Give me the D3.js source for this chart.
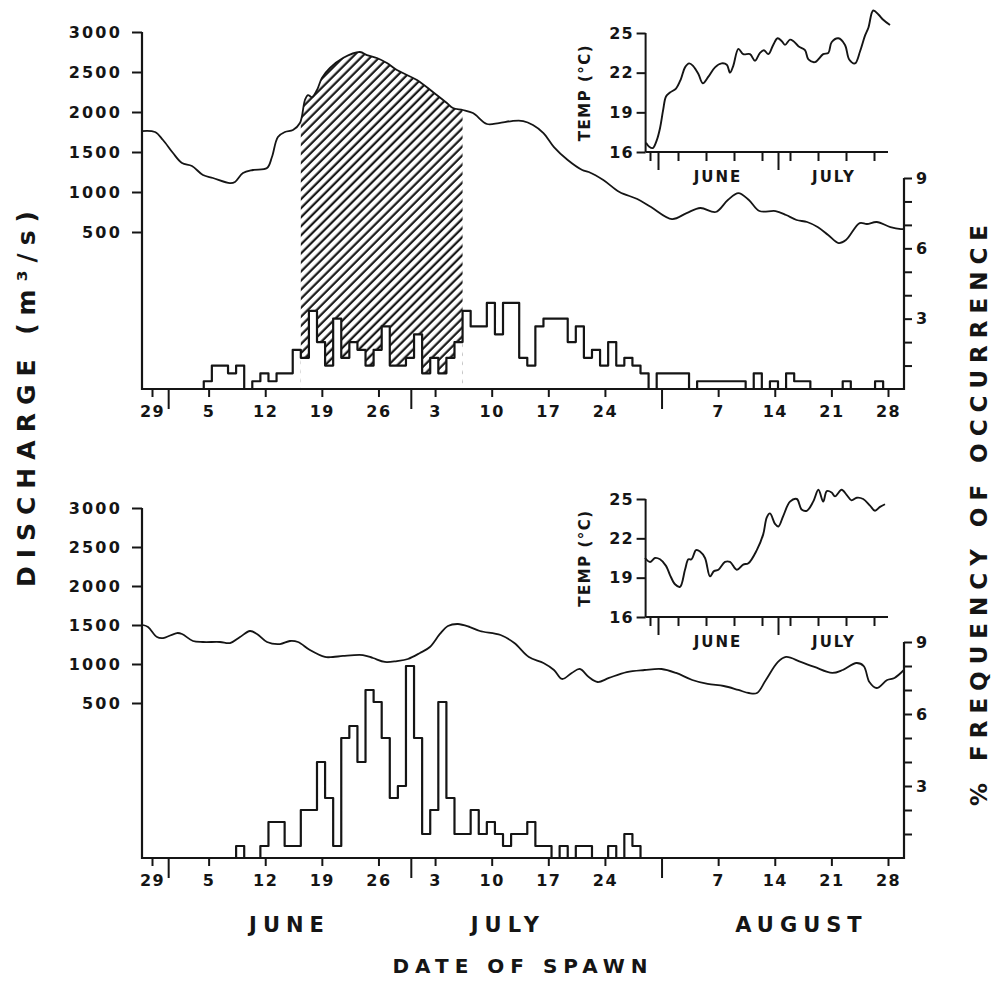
<!DOCTYPE html>
<html><head><meta charset="utf-8">
<script src="https://cdn.jsdelivr.net/npm/d3@7"></script>
<style>
body{margin:0;background:#fff}
svg{display:block}
text{font-family:"DejaVu Sans",Verdana,sans-serif;font-weight:bold;fill:#151515}
</style>
</head><body>
<svg id="c" width="992" height="991"></svg>
<script>
// ---------------- data ----------------
// days are counted from 29 May (day 0)
const dischargeTicks = [500, 1000, 1500, 2000, 2500, 3000];
const freqTicks = [1, 2, 3, 4, 5, 6, 7, 8, 9];
const freqLabels = [3, 6, 9];
const dayTicks = [0, 7, 14, 21, 28, 35, 42, 49, 56, 70, 77, 84, 91];
const dayTickLabels = ["29", "5", "12", "19", "26", "3", "10", "17", "24", "7", "14", "21", "28"];
const monthBoundaryDays = [2, 32, 63];
const months = ["JUNE", "JULY", "AUGUST"];
const monthLabelDays = [17, 44, 80.3];
const tempTicks = [16, 19, 22, 25];
const insetTickDays = [0, 7, 14, 21, 28, 35, 42, 49, 56];
const insetMonthDays = [2, 32];
const insetMonths = ["JUNE", "JULY"];
const insetMonthLabelDays = [17, 46];

// spawning window (hatched) in upper panel, days
const spawnWindow = [18.4, 38.4];

// upper panel discharge (m3/s)
const topDischargeDay = [-1.24,0.37,1.36,2.6,3.71,4.94,6.3,7.54,9.64,10.26,11.25,12.48,14.22,14.83,15.57,16.44,17.43,18.29,18.91,19.28,19.78,20.4,21.01,22.0,23.61,25.71,26.58,27.81,29.05,30.28,32.76,34.73,36.46,37.21,38.44,39.68,41.41,42.9,44.5,45.9,47.1,48.4,49.7,51.4,53.2,54.0,55.8,57.8,60.0,61.7,64.3,66.1,67.8,69.7,71.2,72.5,73.8,75.1,77.1,78.4,79.7,81.0,82.3,83.6,84.9,85.8,87.5,88.4,89.6,91.3,92.6,93.8];
const topDischarge = [1762,1750,1650,1487,1362,1325,1212,1175,1112,1125,1237,1275,1300,1437,1687,1750,1775,1862,2150,2212,2187,2275,2425,2550,2675,2750,2712,2675,2612,2525,2400,2250,2112,2050,2025,1987,1850,1862,1887,1887,1837,1737,1562,1400,1275,1250,1150,1000,912,812,662,737,800,750,900,987,900,762,762,712,650,625,562,462,362,400,612,600,625,562,537,537];

// lower panel discharge (m3/s)
const botDischargeDay = [-1.11,-0.49,0.62,1.36,3.09,3.71,5.07,6.30,8.41,9.64,10.88,12.11,12.98,14.22,15.82,17.06,18.05,19.53,21.38,22.37,23.61,26.08,27.32,28.8,30.28,31.64,33.13,34.36,35.6,36.59,37.82,39.31,40.54,43.1,44.8,46.6,48.4,49.7,50.7,51.9,52.9,54.0,55.1,56.5,58.7,60.9,63.0,64.8,66.8,68.7,70.7,72.5,73.8,74.8,75.9,77.4,78.4,80.2,81.9,84.1,85.4,87.1,88.0,88.7,89.6,90.9,91.8,93.8];
const botDischarge = [1500,1474,1346,1333,1397,1385,1295,1282,1282,1269,1346,1423,1385,1282,1256,1295,1282,1179,1090,1090,1103,1115,1077,1026,1038,1064,1141,1218,1385,1487,1513,1474,1423,1372,1269,1090,1013,923,808,885,936,833,769,821,897,923,936,885,795,744,718,667,628,628,795,1026,1090,1026,962,885,923,1013,974,769,692,795,821,1013];

// daily % frequency of occurrence (first value is for day topFreqStart)
const topFreqStart = 7;
const topFreq = [0.33,1,1,0.67,1,0,0.33,0.67,0.33,0.67,0.67,1.67,1.33,3.33,2,1,3,1.33,2,1.67,1,1.67,2.67,1,1,1.33,2.33,0.67,1.33,0.67,1.33,2,3.33,2.67,2.67,3.67,2.33,3.67,3.67,1.33,1,2.67,3,3,3,2,2.67,1.33,1.67,1,2,1,1.33,1,0.67,0,0.67,0.67,0.67,0.67,0,0.33,0.33,0.33,0.33,0.33,0.33,0,0.67,0,0.33,0,0.67,0.33,0.33,0,0,0,0,0.33,0,0,0,0.33];
const botFreqStart = 11;
const botFreq = [0.5,0,0,0.5,1.5,1.5,0.5,0.5,2,2,4,2.5,0.5,5,5.5,4,7,6.5,5,2.5,3,8,5,1,2,6.5,2.5,1,1,2,1,1.5,1,0.5,1,1,1.5,0.5,0.5,0,0.5,0,0.5,0.5,0,0,0.5,0,1,0.5];

// inset temperatures (deg C), days from 29 May
const topTempDay = [-1,-0.2,0.7,1.7,2.5,3.3,4.0,5.0,6.5,7.7,8.75,9.8,10.8,12.1,13.2,14.6,16.25,17.9,19.2,20,20.8,22.1,23.3,25,26.25,27.5,28.5,29.6,30.8,31.9,32.9,33.75,35,35.8,37.1,38.75,39.6,41.25,43.3,44.6,45.4,47.1,48.75,49.8,51.25,52.5,53.75,54.6,55.8,57.1,58.3,60];
const topTemp = [16.7,16.4,16.3,16.9,17.8,19.2,20.2,20.5,20.8,21.5,22.4,22.7,22.5,21.9,21.2,21.7,22.4,22.7,22.6,22.0,22.5,23.8,23.4,23.4,22.9,23.5,23.7,23.4,24.1,24.6,24.4,24.1,24.5,24.4,24.0,23.7,23.0,22.8,23.4,23.5,24.3,24.6,24.1,23.0,22.7,23.6,24.8,25.4,26.7,26.4,26.0,25.6];
const botTempDay = [-1.25,0,1.25,2.5,4,5,6.25,7.5,8.75,9.6,10.4,11.5,12.5,13.75,15,16,17.1,18.75,20,21.7,23.3,24.6,26.7,28.3,29.2,30,31.25,32.1,33.3,35,36.7,37.9,39.2,40.8,42.1,43.3,44.2,45.4,46.25,47.9,49.2,50.4,51.7,53.3,55,56.25,57.5,58.75];
const botTemp = [20.5,20.2,20.5,20.4,19.9,19.2,18.5,18.3,19.6,20.4,20.4,21.1,21.0,20.5,19.1,19.5,19.6,20.2,20.2,19.6,20.0,20.1,21.1,22.3,23.6,23.9,23.1,22.9,23.7,24.8,25.0,24.2,24.1,24.8,25.7,24.8,25.6,25.5,25.2,25.7,25.3,24.9,25.1,25.0,24.5,24.1,24.4,24.6];

// ---------------- drawing ----------------
const INK = "#151515";
const svg = d3.select("#c");
const defs = svg.append("defs");

const pat = defs.append("pattern").attr("id", "hatch")
  .attr("patternUnits", "userSpaceOnUse").attr("width", 6.4).attr("height", 6.4)
  .attr("patternTransform", "rotate(45)");
pat.append("line").attr("x1", 1.6).attr("y1", 0).attr("x2", 1.6).attr("y2", 6.4)
  .attr("stroke", INK).attr("stroke-width", 2.2);

const x = d3.scaleLinear().domain([0, 91]).range([152, 888]);
const X_LEFT = 142, X_RIGHT = 904;
const xi = d3.scaleLinear().domain([0, 56]).range([650, 874]);

function styleAxisText(g, size, spacing) {
  g.selectAll("text").attr("font-size", size).attr("letter-spacing", spacing)
    .attr("fill", INK).attr("font-family", "'DejaVu Sans',Verdana,sans-serif").attr("font-weight", "bold");
  g.selectAll("line").attr("stroke", INK).attr("stroke-width", 2);
  g.select(".domain").remove();
}

function histPoints(start, vals) {
  const pts = [[start - 0.6, 0]];
  vals.forEach((v, i) => { const d = start + i; pts.push([d - 0.6, v], [d + 0.4, v]); });
  pts.push([start + vals.length - 1 + 0.4, 0]);
  return pts;
}

function panel(cfg) {
  const g = svg.append("g");
  const yD = d3.scaleLinear().domain([0, 3000]).range([cfg.dZero, cfg.dTop]);
  const yF = d3.scaleLinear().domain([0, 9]).range([cfg.base, cfg.fTop]);
  const dis = cfg.dDays.map((d, i) => ({ d, v: cfg.dVals[i] }));
  const curve = d3.curveCatmullRom.alpha(0.5);
  const hp = histPoints(cfg.fStart, cfg.freq);

  const clipId = "clip" + cfg.id;
  defs.append("clipPath").attr("id", clipId).append("rect")
    .attr("x", X_LEFT).attr("y", 0).attr("width", X_RIGHT - X_LEFT).attr("height", cfg.base);

  if (cfg.hatch) {
    const hid = "hclip" + cfg.id;
    defs.append("clipPath").attr("id", hid).append("rect")
      .attr("x", x(cfg.hatch[0])).attr("y", 0)
      .attr("width", x(cfg.hatch[1]) - x(cfg.hatch[0])).attr("height", cfg.base);
    const hg = g.append("g").attr("clip-path", `url(#${hid})`);
    hg.append("path").datum(dis)
      .attr("d", d3.area().x(p => x(p.d)).y0(cfg.base).y1(p => yD(p.v)).curve(curve))
      .attr("fill", "url(#hatch)");
    hg.append("path").datum(hp)
      .attr("d", d3.line().x(p => x(p[0])).y(p => yF(p[1])))
      .attr("fill", "#fff").attr("stroke", "none");
  }

  // discharge line
  g.append("path").datum(dis).attr("clip-path", `url(#${clipId})`)
    .attr("d", d3.line().x(p => x(p.d)).y(p => yD(p.v)).curve(curve))
    .attr("fill", "none").attr("stroke", INK).attr("stroke-width", 1.8);

  // histogram
  g.append("path").datum(hp)
    .attr("d", d3.line().x(p => x(p[0])).y(p => yF(p[1])))
    .attr("fill", "none").attr("stroke", INK).attr("stroke-width", 2.2)
    .attr("stroke-linejoin", "round");

  // axes lines
  g.append("line").attr("x1", X_LEFT).attr("x2", X_LEFT).attr("y1", yD(3000)).attr("y2", cfg.base + 1)
    .attr("stroke", INK).attr("stroke-width", 2.2);
  g.append("line").attr("x1", X_LEFT).attr("x2", X_RIGHT).attr("y1", cfg.base).attr("y2", cfg.base)
    .attr("stroke", INK).attr("stroke-width", 2.2);
  g.append("line").attr("x1", X_RIGHT).attr("x2", X_RIGHT).attr("y1", yF(9)).attr("y2", cfg.base + 1)
    .attr("stroke", INK).attr("stroke-width", 2.2);

  g.append("g").attr("transform", `translate(${X_LEFT},0)`)
    .call(d3.axisLeft(yD).tickValues(dischargeTicks).tickSize(10).tickPadding(10).tickFormat(d3.format("d")))
    .call(a => styleAxisText(a, 16, 2.2));
  g.append("g").attr("transform", `translate(${X_RIGHT},0)`)
    .call(d3.axisRight(yF).tickValues(freqTicks).tickSize(8).tickPadding(4)
      .tickFormat(d => freqLabels.includes(d) ? d : ""))
    .call(a => styleAxisText(a, 16, 1));
  g.append("g").attr("transform", `translate(0,${cfg.base})`)
    .call(d3.axisBottom(x).tickValues(dayTicks).tickSize(8).tickPadding(9)
      .tickFormat((d, i) => dayTickLabels[i]))
    .call(a => styleAxisText(a, 16, 1.5));
  g.append("g").attr("transform", `translate(0,${cfg.base})`)
    .call(d3.axisBottom(x).tickValues(monthBoundaryDays).tickSize(20).tickFormat(""))
    .call(a => styleAxisText(a, 16, 1));

  // inset
  const ig = g.append("g");
  const yT = d3.scaleLinear().domain([16, 25]).range([cfg.iBase, cfg.iTop]);
  const tdat = cfg.tDays.map((d, i) => ({ d, v: cfg.temps[i] }));
  ig.append("line").attr("x1", xi(-1.1)).attr("x2", xi(-1.1)).attr("y1", yT(25)).attr("y2", yT(16))
    .attr("stroke", INK).attr("stroke-width", 2);
  ig.append("line").attr("x1", xi(-1.1)).attr("x2", xi(59.5)).attr("y1", yT(16)).attr("y2", yT(16))
    .attr("stroke", INK).attr("stroke-width", 2);
  ig.append("g").attr("transform", `translate(${xi(-1.1)},0)`)
    .call(d3.axisLeft(yT).tickValues(tempTicks).tickSize(9).tickPadding(3))
    .call(a => styleAxisText(a, 16, 1));
  ig.append("g").attr("transform", `translate(0,${yT(16)})`)
    .call(d3.axisBottom(xi).tickValues(insetTickDays).tickSize(9).tickFormat(""))
    .call(a => styleAxisText(a, 14, 1));
  ig.append("g").attr("transform", `translate(0,${yT(16)})`)
    .call(d3.axisBottom(xi).tickValues(insetMonthDays).tickSize(18).tickFormat(""))
    .call(a => styleAxisText(a, 14, 1));
  ig.selectAll(null).data(insetMonths).join("text")
    .attr("x", (d, i) => xi(insetMonthLabelDays[i])).attr("y", yT(16) + 25)
    .attr("dy", "0.36em").attr("text-anchor", "middle")
    .attr("font-size", 15).attr("letter-spacing", 2).text(d => d);
  ig.append("text").attr("transform", `translate(${cfg.tempLabelX},${(yT(25) + yT(16)) / 2}) rotate(-90)`)
    .attr("text-anchor", "middle").attr("dy", "0.36em")
    .attr("font-size", 15).attr("letter-spacing", 1.5).text("TEMP (°C)");
  ig.append("path").datum(tdat)
    .attr("d", d3.line().x(p => xi(p.d)).y(p => yT(p.v)).curve(d3.curveCatmullRom.alpha(0.5)))
    .attr("fill", "none").attr("stroke", INK).attr("stroke-width", 1.9);
  return g;
}

panel({ id: "t", dZero: 272, dTop: 32, base: 389, fTop: 178, dDays: topDischargeDay, dVals: topDischarge,
  fStart: topFreqStart, freq: topFreq, hatch: spawnWindow,
  iBase: 152, iTop: 33, tDays: topTempDay, temps: topTemp, tempLabelX: 585 });
panel({ id: "b", dZero: 742, dTop: 508, base: 858, fTop: 642, dDays: botDischargeDay, dVals: botDischarge,
  fStart: botFreqStart, freq: botFreq, hatch: null,
  iBase: 617, iTop: 499, tDays: botTempDay, temps: botTemp, tempLabelX: 585 });

// month labels and titles
svg.selectAll(null).data(months).join("text")
  .attr("x", (d, i) => x(monthLabelDays[i])).attr("y", 924).attr("dy", "0.36em")
  .attr("text-anchor", "middle").attr("font-size", 21).attr("letter-spacing", 6).text(d => d);
svg.append("text").attr("x", 523).attr("y", 966).attr("dy", "0.36em").attr("text-anchor", "middle")
  .attr("font-size", 20).attr("letter-spacing", 6).text("DATE OF SPAWN");
svg.append("text").attr("transform", "translate(26,395) rotate(-90)").attr("dy", "0.36em")
  .attr("text-anchor", "middle").attr("font-size", 25).attr("letter-spacing", 8).text("DISCHARGE (m³/s)");
svg.append("text").attr("transform", "translate(979,512) rotate(-90)").attr("dy", "0.36em")
  .attr("text-anchor", "middle").attr("font-size", 23).attr("letter-spacing", 7).text("% FREQUENCY OF OCCURRENCE");
</script>
</body></html>
